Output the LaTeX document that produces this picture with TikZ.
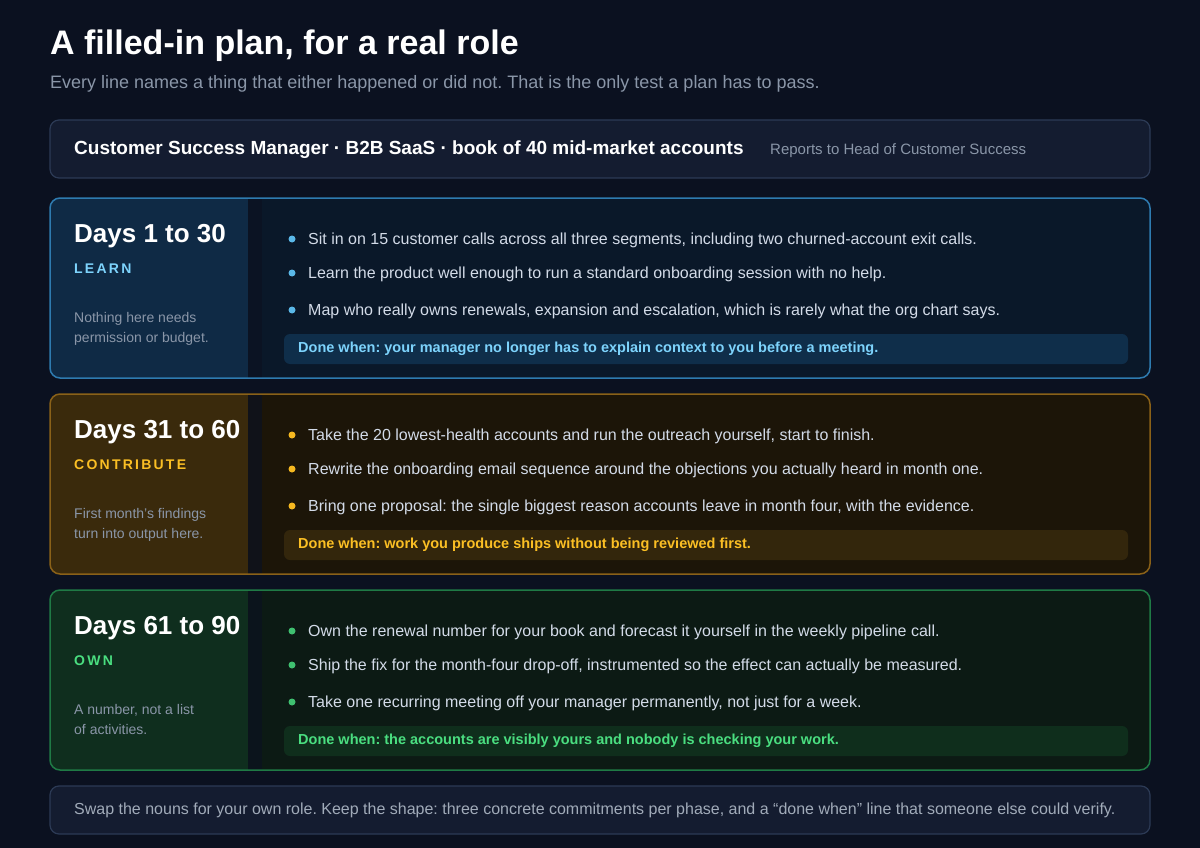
\documentclass[tikz,border=0pt]{standalone}
\usepackage{fontspec}
\setmainfont{Liberation Sans}
\frenchspacing
\definecolor{bg}{HTML}{0B1120}
\definecolor{hdrfill}{HTML}{141C30}
\definecolor{hdrline}{HTML}{2C3A55}
\definecolor{bodytext}{HTML}{D3DBE8}
\definecolor{muted}{HTML}{8A96A8}
\definecolor{aL}{HTML}{0F2A45}\definecolor{aR}{HTML}{0A1829}\definecolor{aB}{HTML}{2E7BB0}\definecolor{aT}{HTML}{7DD3FC}\definecolor{aD}{HTML}{0F2E4A}\definecolor{aDot}{HTML}{5AB8E8}
\definecolor{bL}{HTML}{3A2A0C}\definecolor{bR}{HTML}{1C1508}\definecolor{bB}{HTML}{8A6118}\definecolor{bT}{HTML}{FBBF24}\definecolor{bD}{HTML}{33260C}\definecolor{bDot}{HTML}{F5B820}
\definecolor{cL}{HTML}{0F2E1E}\definecolor{cR}{HTML}{0C1A14}\definecolor{cB}{HTML}{1F7A45}\definecolor{cT}{HTML}{4ADE80}\definecolor{cD}{HTML}{0F2E1C}\definecolor{cDot}{HTML}{3FC070}
\tikzset{every node/.style={inner sep=0pt}}
\newcommand\phasecard[9]{%
 \fill[#2R,rounded corners=10] (50,#1) rectangle (1150,#1+180);
 \begin{scope}
 \clip[rounded corners=10] (50,#1) rectangle (1150,#1+180);
 \fill[#2L] (50,#1) rectangle (248,#1+180);
 \fill[bg!70!#2R] (248,#1) rectangle (262,#1+180);
 \end{scope}
 \draw[#2B,line width=1.5,rounded corners=10] (50,#1) rectangle (1150,#1+180);
 \node[anchor=west,font=\bfseries\fontsize{26}{30}\selectfont,text=white] (t#2) at (74,#1+38) {#3};
 \node[anchor=west,font=\bfseries\fontsize{14}{16}\selectfont\addfontfeature{LetterSpace=16},text=#2T] (l#2) at (74,#1+71) {#4};
 \node[anchor=north west,font=\fontsize{14}{20}\selectfont,text=muted,align=left] (n#2) at (74,#1+114) {#5};
 \foreach \yy/\tx [count=\i] in {42/{#6},76/{#7},113/{#8}}{
   \fill[#2Dot] (292,#1+\yy-1) circle (3.5);
   \node[anchor=west,font=\fontsize{16}{18}\selectfont,text=bodytext] (b#2\i) at (308,#1+\yy) {\tx};
 }
 \fill[#2D,rounded corners=6] (284,#1+136) rectangle (1128,#1+166);
 \node[anchor=west,font=\bfseries\fontsize{14.5}{16}\selectfont,text=#2T] (d#2) at (298,#1+151) {#9};
}
\begin{document}
\begin{tikzpicture}[x=1pt,y=-1pt]
\fill[bg] (0,0) rectangle (1200,848);
\useasboundingbox (0,0) rectangle (1200,848);
\node[anchor=west,font=\bfseries\fontsize{34}{38}\selectfont,text=white] (title) at (50,46) {A filled-in plan, for a real role};
\node[anchor=west,font=\fontsize{18}{20}\selectfont,text=muted] (sub) at (50,84) {Every line names a thing that either happened or did not. That is the only test a plan has to pass.};
\draw[hdrline,fill=hdrfill,line width=1.2,rounded corners=9] (50,120) rectangle (1150,178);
\node[anchor=west,font=\bfseries\fontsize{19}{22}\selectfont,text=white] (role) at (74,150) {Customer Success Manager · B2B SaaS · book of 40 mid-market accounts};
\node[anchor=west,font=\fontsize{15}{17}\selectfont,text=muted] (rep) at (770,151) {Reports to Head of Customer Success};
\phasecard{198}{a}{Days 1 to 30}{LEARN}{Nothing here needs\\permission or budget.}{Sit in on 15 customer calls across all three segments, including two churned-account exit calls.}{Learn the product well enough to run a standard onboarding session with no help.}{Map who really owns renewals, expansion and escalation, which is rarely what the org chart says.}{Done when: your manager no longer has to explain context to you before a meeting.}
\phasecard{394}{b}{Days 31 to 60}{CONTRIBUTE}{First month's findings\\turn into output here.}{Take the 20 lowest-health accounts and run the outreach yourself, start to finish.}{Rewrite the onboarding email sequence around the objections you actually heard in month one.}{Bring one proposal: the single biggest reason accounts leave in month four, with the evidence.}{Done when: work you produce ships without being reviewed first.}
\phasecard{590}{c}{Days 61 to 90}{OWN}{A number, not a list\\of activities.}{Own the renewal number for your book and forecast it yourself in the weekly pipeline call.}{Ship the fix for the month-four drop-off, instrumented so the effect can actually be measured.}{Take one recurring meeting off your manager permanently, not just for a week.}{Done when: the accounts are visibly yours and nobody is checking your work.}
\draw[hdrline,fill=hdrfill,line width=1.2,rounded corners=9] (50,786) rectangle (1150,834);
\node[anchor=west,font=\fontsize{16}{18}\selectfont,text=muted!80!white] (foot) at (74,810) {Swap the nouns for your own role. Keep the shape: three concrete commitments per phase, and a “done when” line that someone else could verify.};
\end{tikzpicture}
\end{document}
